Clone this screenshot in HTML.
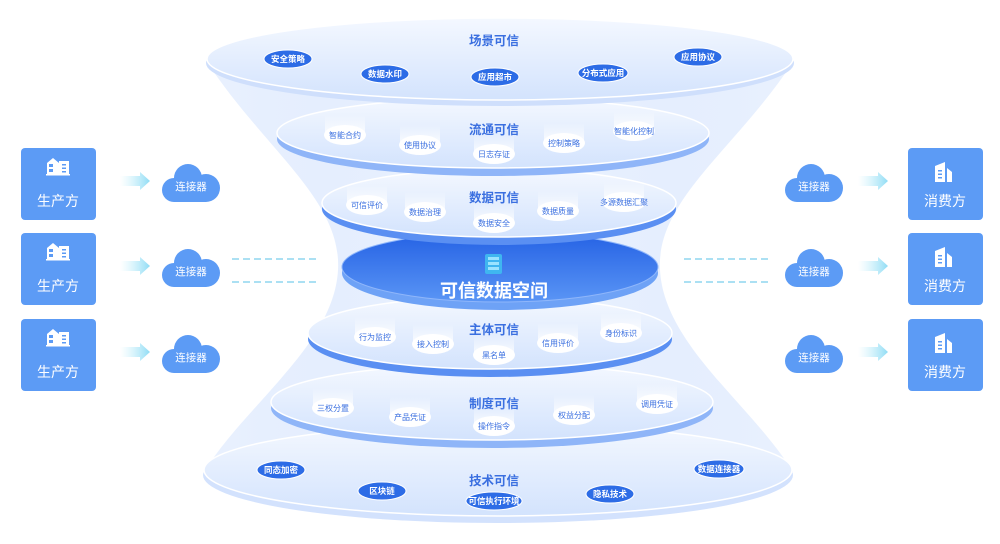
<!DOCTYPE html>
<html><head><meta charset="utf-8"><style>
html,body{margin:0;padding:0;background:#fff;}
svg{display:block;font-family:"Liberation Sans","Noto Sans CJK SC",sans-serif;}
</style></head><body>
<svg width="1000" height="544" viewBox="0 0 1000 544" xmlns="http://www.w3.org/2000/svg">
<defs>
<linearGradient id="fun" x1="0" y1="0" x2="1" y2="0">
<stop offset="0" stop-color="#d4e3fd" stop-opacity="0.5"/><stop offset="0.3" stop-color="#e6effe"/><stop offset="0.5" stop-color="#f3f7ff"/><stop offset="0.7" stop-color="#e6effe"/><stop offset="1" stop-color="#d4e3fd" stop-opacity="0.5"/></linearGradient>
<linearGradient id="disk" x1="0" y1="0" x2="0" y2="1">
<stop offset="0" stop-color="#2461e4"/><stop offset="1" stop-color="#5a95f5"/></linearGradient>
<linearGradient id="lay" x1="0" y1="0" x2="0" y2="1">
<stop offset="0" stop-color="#f4f8ff"/><stop offset="1" stop-color="#d3e3fd"/></linearGradient>
<linearGradient id="arr" x1="0" y1="0" x2="1" y2="0">
<stop offset="0" stop-color="#bfeefa" stop-opacity="0"/><stop offset="1" stop-color="#8fdcf5"/></linearGradient>
<linearGradient id="cyl" x1="0" y1="0" x2="0" y2="1">
<stop offset="0" stop-color="#ffffff" stop-opacity="0"/><stop offset="1" stop-color="#ffffff" stop-opacity="0.9"/></linearGradient>
</defs>

<path d="M207,62 C265,150 342,200 338,270 C334,345 245,405 204,472 L793,472 C752,405 664,345 660,270 C656,200 735,150 793,62 Z" fill="url(#fun)"/>

<ellipse cx="498" cy="475" rx="295" ry="48" fill="#d3e2fd"/>
<ellipse cx="498" cy="470" rx="294" ry="46" fill="url(#lay)" stroke="#fff" stroke-width="1.5"/>
<ellipse cx="492" cy="408" rx="221" ry="40" fill="#8fb5f8"/>
<ellipse cx="492" cy="402" rx="221" ry="38" fill="url(#lay)" stroke="#fff" stroke-width="1.5"/>
<ellipse cx="490" cy="339" rx="182" ry="38" fill="#5a8ff2"/>
<ellipse cx="490" cy="333" rx="182" ry="36" fill="url(#lay)" stroke="#fff" stroke-width="1.5"/>
<ellipse cx="500" cy="273" rx="158" ry="37" fill="#6ea2f6"/>
<ellipse cx="500" cy="267" rx="158" ry="35" fill="url(#disk)" stroke="#8fb6fa" stroke-width="1"/>
<ellipse cx="499" cy="209" rx="177" ry="36" fill="#5a8ff2"/>
<ellipse cx="499" cy="203" rx="177" ry="34" fill="url(#lay)" stroke="#fff" stroke-width="1.5"/>
<ellipse cx="493" cy="139" rx="216" ry="37" fill="#8fb5f8"/>
<ellipse cx="493" cy="133" rx="216" ry="35" fill="url(#lay)" stroke="#fff" stroke-width="1.5"/>
<ellipse cx="500" cy="63" rx="294" ry="43" fill="#cfdffc"/>
<ellipse cx="500" cy="59" rx="293" ry="41" fill="url(#lay)" stroke="#fff" stroke-width="1.5"/>

<g fill="#3a6fe0" font-weight="bold" font-size="12.5" text-anchor="middle">
<text x="494" y="45">场景可信</text>
<text x="494" y="134">流通可信</text>
<text x="494" y="202">数据可信</text>
<text x="494" y="334">主体可信</text>
<text x="494" y="408">制度可信</text>
<text x="494" y="485">技术可信</text>
</g>

<g>
<rect x="485" y="254" width="17" height="20" rx="2" fill="#3fb6f0"/>
<rect x="488" y="257" width="11" height="3" fill="#9ae3ff"/>
<rect x="488" y="262" width="11" height="3" fill="#9ae3ff"/>
<rect x="488" y="267" width="11" height="3" fill="#9ae3ff"/>
<text x="494" y="297" fill="#fff" font-size="18" font-weight="bold" text-anchor="middle">可信数据空间</text>
</g>

<g font-size="8.5" fill="#fff" text-anchor="middle" font-weight="bold">
<g transform="translate(288,59)"><ellipse rx="24" ry="9" fill="#2d6ce6" stroke="#fff"/><text y="3">安全策略</text></g>
<g transform="translate(385,74)"><ellipse rx="24" ry="9" fill="#2d6ce6" stroke="#fff"/><text y="3">数据水印</text></g>
<g transform="translate(495,77)"><ellipse rx="24" ry="9" fill="#2d6ce6" stroke="#fff"/><text y="3">应用超市</text></g>
<g transform="translate(603,73)"><ellipse rx="25" ry="9" fill="#2d6ce6" stroke="#fff"/><text y="3">分布式应用</text></g>
<g transform="translate(698,57)"><ellipse rx="24" ry="9" fill="#2d6ce6" stroke="#fff"/><text y="3">应用协议</text></g>
<g transform="translate(281,470)"><ellipse rx="24" ry="9" fill="#2d6ce6" stroke="#fff"/><text y="3">同态加密</text></g>
<g transform="translate(382,491)"><ellipse rx="24" ry="9" fill="#2d6ce6" stroke="#fff"/><text y="3">区块链</text></g>
<g transform="translate(494,501)"><ellipse rx="28" ry="9" fill="#2d6ce6" stroke="#fff"/><text y="3">可信执行环境</text></g>
<g transform="translate(610,494)"><ellipse rx="24" ry="9" fill="#2d6ce6" stroke="#fff"/><text y="3">隐私技术</text></g>
<g transform="translate(719,469)"><ellipse rx="25" ry="9" fill="#2d6ce6" stroke="#fff"/><text y="3">数据连接器</text></g>
</g>

<g font-size="8" fill="#3a6fe0" text-anchor="middle">
<g transform="translate(345,135)"><rect x="-20" y="-20" width="40" height="20" fill="url(#cyl)"/><ellipse rx="21" ry="10" fill="#fff"/><text y="3">智能合约</text></g>
<g transform="translate(420,145)"><rect x="-20" y="-20" width="40" height="20" fill="url(#cyl)"/><ellipse rx="21" ry="10" fill="#fff"/><text y="3">使用协议</text></g>
<g transform="translate(494,154)"><rect x="-20" y="-20" width="40" height="20" fill="url(#cyl)"/><ellipse rx="21" ry="10" fill="#fff"/><text y="3">日志存证</text></g>
<g transform="translate(564,143)"><rect x="-20" y="-20" width="40" height="20" fill="url(#cyl)"/><ellipse rx="21" ry="10" fill="#fff"/><text y="3">控制策略</text></g>
<g transform="translate(634,131)"><rect x="-20" y="-20" width="40" height="20" fill="url(#cyl)"/><ellipse rx="21" ry="10" fill="#fff"/><text y="3">智能化控制</text></g>

<g transform="translate(367,205)"><rect x="-20" y="-20" width="40" height="20" fill="url(#cyl)"/><ellipse rx="21" ry="10" fill="#fff"/><text y="3">可信评价</text></g>
<g transform="translate(425,212)"><rect x="-20" y="-20" width="40" height="20" fill="url(#cyl)"/><ellipse rx="21" ry="10" fill="#fff"/><text y="3">数据治理</text></g>
<g transform="translate(494,223)"><rect x="-20" y="-20" width="40" height="20" fill="url(#cyl)"/><ellipse rx="21" ry="10" fill="#fff"/><text y="3">数据安全</text></g>
<g transform="translate(558,211)"><rect x="-20" y="-20" width="40" height="20" fill="url(#cyl)"/><ellipse rx="21" ry="10" fill="#fff"/><text y="3">数据质量</text></g>
<g transform="translate(624,202)"><rect x="-20" y="-20" width="40" height="20" fill="url(#cyl)"/><ellipse rx="22" ry="10" fill="#fff"/><text y="3">多源数据汇聚</text></g>

<g transform="translate(375,337)"><rect x="-20" y="-20" width="40" height="20" fill="url(#cyl)"/><ellipse rx="21" ry="10" fill="#fff"/><text y="3">行为监控</text></g>
<g transform="translate(433,344)"><rect x="-20" y="-20" width="40" height="20" fill="url(#cyl)"/><ellipse rx="21" ry="10" fill="#fff"/><text y="3">接入控制</text></g>
<g transform="translate(494,355)"><rect x="-20" y="-20" width="40" height="20" fill="url(#cyl)"/><ellipse rx="21" ry="10" fill="#fff"/><text y="3">黑名单</text></g>
<g transform="translate(558,343)"><rect x="-20" y="-20" width="40" height="20" fill="url(#cyl)"/><ellipse rx="21" ry="10" fill="#fff"/><text y="3">信用评价</text></g>
<g transform="translate(621,333)"><rect x="-20" y="-20" width="40" height="20" fill="url(#cyl)"/><ellipse rx="21" ry="10" fill="#fff"/><text y="3">身份标识</text></g>

<g transform="translate(333,408)"><rect x="-20" y="-20" width="40" height="20" fill="url(#cyl)"/><ellipse rx="21" ry="10" fill="#fff"/><text y="3">三权分置</text></g>
<g transform="translate(410,417)"><rect x="-20" y="-20" width="40" height="20" fill="url(#cyl)"/><ellipse rx="21" ry="10" fill="#fff"/><text y="3">产品凭证</text></g>
<g transform="translate(494,426)"><rect x="-20" y="-20" width="40" height="20" fill="url(#cyl)"/><ellipse rx="21" ry="10" fill="#fff"/><text y="3">操作指令</text></g>
<g transform="translate(574,415)"><rect x="-20" y="-20" width="40" height="20" fill="url(#cyl)"/><ellipse rx="21" ry="10" fill="#fff"/><text y="3">权益分配</text></g>
<g transform="translate(657,404)"><rect x="-20" y="-20" width="40" height="20" fill="url(#cyl)"/><ellipse rx="21" ry="10" fill="#fff"/><text y="3">调用凭证</text></g>
</g>

<g stroke="#8fd6ef" stroke-width="1.5" stroke-dasharray="7,4">
<line x1="232" y1="259" x2="316" y2="259"/><line x1="232" y1="282" x2="316" y2="282"/>
<line x1="684" y1="259" x2="768" y2="259"/><line x1="684" y1="282" x2="768" y2="282"/>
</g>

<g font-size="14" fill="#fff" text-anchor="middle">
<rect x="21" y="148" width="75" height="72" rx="4" fill="#5c9bf5"/>
<rect x="21" y="233" width="75" height="72" rx="4" fill="#5c9bf5"/>
<rect x="21" y="319" width="75" height="72" rx="4" fill="#5c9bf5"/>
<text x="58" y="206">生产方</text><text x="58" y="291">生产方</text><text x="58" y="377">生产方</text>
<rect x="908" y="148" width="75" height="72" rx="4" fill="#5c9bf5"/>
<rect x="908" y="233" width="75" height="72" rx="4" fill="#5c9bf5"/>
<rect x="908" y="319" width="75" height="72" rx="4" fill="#5c9bf5"/>
<text x="945" y="206">消费方</text><text x="945" y="291">消费方</text><text x="945" y="377">消费方</text>
</g>
<g fill="#fff">
<g transform="translate(47,158)"><path d="M0,16 L0,5 L6,0 L12,5 L12,16 Z"/><rect x="12" y="3" width="10" height="13"/><rect x="-1" y="16" width="24" height="1.5"/><rect x="2" y="6" width="4" height="3" fill="#5c9bf5"/><rect x="2" y="11" width="4" height="3" fill="#5c9bf5"/><rect x="15" y="6" width="4" height="1.5" fill="#5c9bf5"/><rect x="15" y="9.5" width="4" height="1.5" fill="#5c9bf5"/><rect x="15" y="13" width="4" height="1.5" fill="#5c9bf5"/></g>
<g transform="translate(47,243)"><path d="M0,16 L0,5 L6,0 L12,5 L12,16 Z"/><rect x="12" y="3" width="10" height="13"/><rect x="-1" y="16" width="24" height="1.5"/><rect x="2" y="6" width="4" height="3" fill="#5c9bf5"/><rect x="2" y="11" width="4" height="3" fill="#5c9bf5"/><rect x="15" y="6" width="4" height="1.5" fill="#5c9bf5"/><rect x="15" y="9.5" width="4" height="1.5" fill="#5c9bf5"/><rect x="15" y="13" width="4" height="1.5" fill="#5c9bf5"/></g>
<g transform="translate(47,329)"><path d="M0,16 L0,5 L6,0 L12,5 L12,16 Z"/><rect x="12" y="3" width="10" height="13"/><rect x="-1" y="16" width="24" height="1.5"/><rect x="2" y="6" width="4" height="3" fill="#5c9bf5"/><rect x="2" y="11" width="4" height="3" fill="#5c9bf5"/><rect x="15" y="6" width="4" height="1.5" fill="#5c9bf5"/><rect x="15" y="9.5" width="4" height="1.5" fill="#5c9bf5"/><rect x="15" y="13" width="4" height="1.5" fill="#5c9bf5"/></g>
<g transform="translate(935,162)"><path d="M0,4 L10,0 L10,20 L0,20 Z"/><path d="M12,6 L17,10 L17,20 L12,20 Z"/><rect x="3" y="8" width="4" height="1.5" fill="#5c9bf5"/><rect x="3" y="11.5" width="4" height="1.5" fill="#5c9bf5"/><rect x="3" y="15" width="4" height="1.5" fill="#5c9bf5"/></g>
<g transform="translate(935,247)"><path d="M0,4 L10,0 L10,20 L0,20 Z"/><path d="M12,6 L17,10 L17,20 L12,20 Z"/><rect x="3" y="8" width="4" height="1.5" fill="#5c9bf5"/><rect x="3" y="11.5" width="4" height="1.5" fill="#5c9bf5"/><rect x="3" y="15" width="4" height="1.5" fill="#5c9bf5"/></g>
<g transform="translate(935,333)"><path d="M0,4 L10,0 L10,20 L0,20 Z"/><path d="M12,6 L17,10 L17,20 L12,20 Z"/><rect x="3" y="8" width="4" height="1.5" fill="#5c9bf5"/><rect x="3" y="11.5" width="4" height="1.5" fill="#5c9bf5"/><rect x="3" y="15" width="4" height="1.5" fill="#5c9bf5"/></g>
</g>

<g fill="url(#arr)">
<path d="M120,176 L140,176 L140,172 L150,181 L140,190 L140,186 L120,186 Z"/>
<path d="M120,261 L140,261 L140,257 L150,266 L140,275 L140,271 L120,271 Z"/>
<path d="M120,347 L140,347 L140,343 L150,352 L140,361 L140,357 L120,357 Z"/>
<path d="M858,176 L878,176 L878,172 L888,181 L878,190 L878,186 L858,186 Z"/>
<path d="M858,261 L878,261 L878,257 L888,266 L878,275 L878,271 L858,271 Z"/>
<path d="M858,347 L878,347 L878,343 L888,352 L878,361 L878,357 L858,357 Z"/>
</g>

<g fill="#5c9bf5">
<g transform="translate(191,184)"><circle cx="-3" cy="-6" r="14"/><circle cx="15" cy="4" r="14"/><circle cx="-17" cy="6" r="12"/><rect x="-17" y="2" width="32" height="16"/></g>
<g transform="translate(191,269)"><circle cx="-3" cy="-6" r="14"/><circle cx="15" cy="4" r="14"/><circle cx="-17" cy="6" r="12"/><rect x="-17" y="2" width="32" height="16"/></g>
<g transform="translate(191,355)"><circle cx="-3" cy="-6" r="14"/><circle cx="15" cy="4" r="14"/><circle cx="-17" cy="6" r="12"/><rect x="-17" y="2" width="32" height="16"/></g>
<g transform="translate(814,184)"><circle cx="-3" cy="-6" r="14"/><circle cx="15" cy="4" r="14"/><circle cx="-17" cy="6" r="12"/><rect x="-17" y="2" width="32" height="16"/></g>
<g transform="translate(814,269)"><circle cx="-3" cy="-6" r="14"/><circle cx="15" cy="4" r="14"/><circle cx="-17" cy="6" r="12"/><rect x="-17" y="2" width="32" height="16"/></g>
<g transform="translate(814,355)"><circle cx="-3" cy="-6" r="14"/><circle cx="15" cy="4" r="14"/><circle cx="-17" cy="6" r="12"/><rect x="-17" y="2" width="32" height="16"/></g>
</g>
<g font-size="10.5" fill="#fff" text-anchor="middle">
<text x="191" y="190">连接器</text><text x="191" y="275">连接器</text><text x="191" y="361">连接器</text>
<text x="814" y="190">连接器</text><text x="814" y="275">连接器</text><text x="814" y="361">连接器</text>
</g>
</svg>
</body></html>
